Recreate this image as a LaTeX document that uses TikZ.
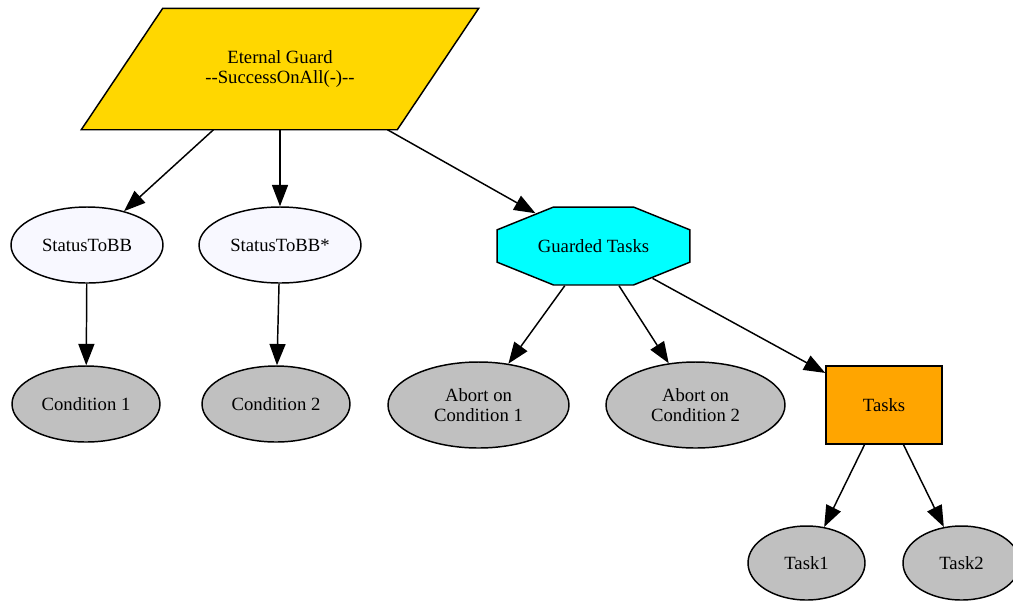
\documentclass[tikz,border=0pt]{standalone}
\usepackage{fontspec}
\setmainfont{Liberation Serif}
\usetikzlibrary{shapes.geometric,arrows.meta,backgrounds}
\definecolor{gvgold}{HTML}{FFD700}
\definecolor{gvghost}{HTML}{F8F8FF}
\definecolor{gvcyan}{HTML}{00FFFF}
\definecolor{gvgray}{HTML}{C0C0C0}
\definecolor{gvorange}{HTML}{FFA500}
\tikzset{
  base/.style={draw=black, line width=1.1pt, inner sep=0pt, align=center,
    font=\fontsize{14}{15.5}\selectfont},
  para/.style={base, draw=none, rectangle, minimum width=396*0.75pt, minimum height=120*0.75pt},
  parafill/.style={fill=gvgold, draw=black, line width=1.1pt, line join=miter},
  ghost/.style={base, ellipse, fill=gvghost, minimum height=76*0.75pt},
  leaf/.style={base, ellipse, fill=gvgray, minimum height=76*0.75pt},
  octa/.style={base, regular polygon, regular polygon sides=8, fill=gvcyan,
    minimum size=84.4*0.75pt, xscale=2.474},
  boxnode/.style={base, rectangle, fill=gvorange, minimum width=116*0.75pt, minimum height=78*0.75pt},
  edge/.style={line width=1.1pt, -{Triangle[length=16pt,width=12pt]}}
}
\begin{document}
\begin{tikzpicture}[x=0.75pt,y=-0.75pt]
\useasboundingbox (0,0) rectangle (1013,601);
\node[para] (eg) at (280,69) {Eternal Guard\\-{}-SuccessOnAll(-)-{}-};
\begin{scope}[on background layer]
\path[parafill] (eg.south west) -- ([xshift=316*0.75pt]eg.south west) -- (eg.north east)
  -- ([xshift=-316*0.75pt]eg.north east) -- cycle;
\end{scope}
\node[ghost, minimum width=152*0.75pt] (s1) at (87,245) {StatusToBB};
\node[ghost, minimum width=162*0.75pt] (s2) at (280,245) {StatusToBB*};
\node[octa] (gt) at (593.5,246) {\scalebox{0.4042}[1]{Guarded Tasks}};
\node[leaf, minimum width=148*0.75pt] (c1) at (86,404) {Condition 1};
\node[leaf, minimum width=148*0.75pt] (c2) at (276,404) {Condition 2};
\node[leaf, minimum width=181*0.75pt, minimum height=86*0.75pt] (a1) at (478.5,405) {Abort on\\Condition 1};
\node[leaf, minimum width=179*0.75pt, minimum height=86*0.75pt] (a2) at (695.5,405) {Abort on\\Condition 2};
\node[boxnode] (tk) at (884,405) {Tasks};
\node[leaf, minimum width=117*0.75pt, minimum height=74*0.75pt] (t1) at (806.5,563) {Task1};
\node[leaf, minimum width=117*0.75pt, minimum height=74*0.75pt] (t2) at (961.5,563) {Task2};
\draw[edge] (eg) -- (s1);
\draw[edge] (eg) -- (s2);
\draw[edge] (eg) -- (gt);
\draw[edge] (s1) -- (c1);
\draw[edge] (s2) -- (c2);
\draw[edge] (gt) -- (a1);
\draw[edge] (gt) -- (a2);
\draw[edge] (gt) -- (tk);
\draw[edge] (tk) -- (t1);
\draw[edge] (tk) -- (t2);
\end{tikzpicture}
\end{document}
